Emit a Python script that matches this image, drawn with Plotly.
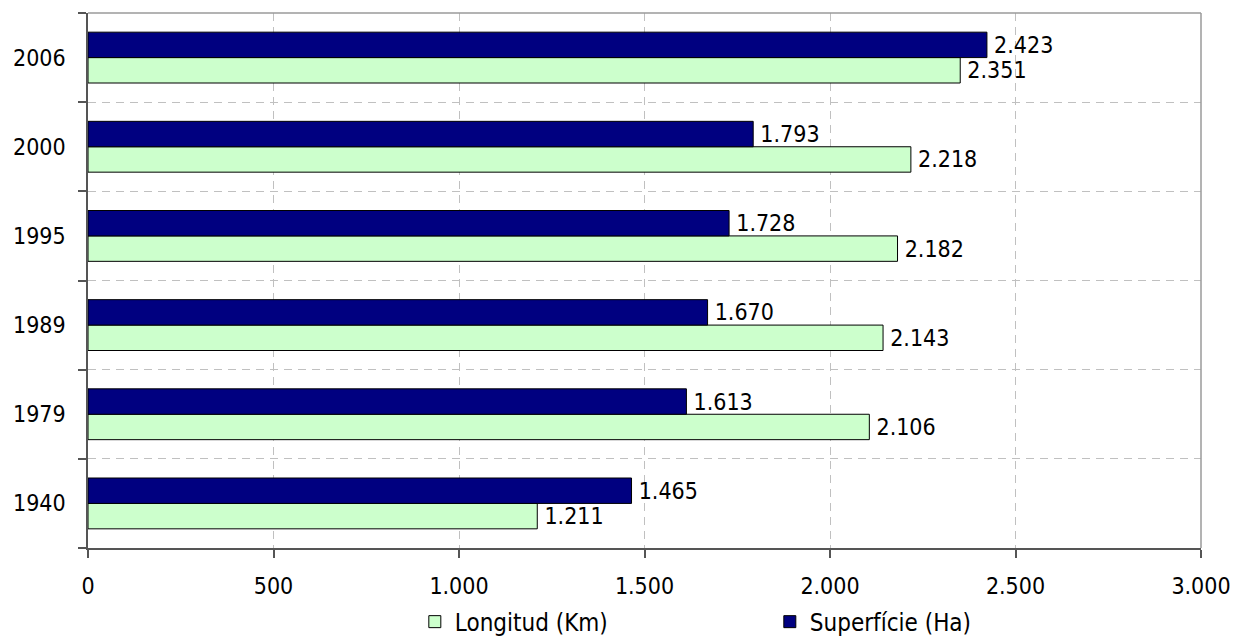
import plotly.graph_objects as go

# Years shown on the category axis (bottom to top)
years = ["1940", "1979", "1989", "1995", "2000", "2006"]
# Length of the network in km
longitud_km = [1211, 2106, 2143, 2182, 2218, 2351]
# Surface area in hectares
superficie_ha = [1465, 1613, 1670, 1728, 1793, 2423]

x_ticks = [0, 500, 1000, 1500, 2000, 2500, 3000]

FONT = "DejaVu Sans Condensed, DejaVu Sans, sans-serif"
FS = 23
# thin space keeps the value labels a little away from the bar ends
LABEL = "\u2009%{x:,d}"

fig = go.Figure()
fig.add_trace(go.Bar(
    name="Longitud (Km)", y=years, x=longitud_km, orientation="h",
    marker=dict(color="#CCFFCC", line=dict(color="#000000", width=1)),
    texttemplate=LABEL, textposition="outside", constraintext="none",
    textfont=dict(family=FONT, size=FS, color="#000000"), cliponaxis=False,
))
fig.add_trace(go.Bar(
    name="Superfície (Ha)", y=years, x=superficie_ha, orientation="h",
    marker=dict(color="#000080", line=dict(color="#000000", width=1)),
    texttemplate=LABEL, textposition="outside", constraintext="none",
    textfont=dict(family=FONT, size=FS, color="#000000"), cliponaxis=False,
))

fig.update_layout(
    width=1236, height=638,
    margin=dict(l=88, r=35, t=13, b=90, autoexpand=False),
    paper_bgcolor="white", plot_bgcolor="white",
    barmode="group", bargap=0.43, bargroupgap=0,
    separators=",.",
    font=dict(family=FONT, size=FS, color="#000000"),
    showlegend=True,
    legend=dict(
        orientation="h", x=0.6126, xanchor="center",
        yref="container", y=0.025, yanchor="middle",
        font=dict(family=FONT, size=24, color="#000000"),
        entrywidth=310, itemwidth=30, traceorder="normal",
    ),
    xaxis=dict(
        range=[0, 3000], tickvals=x_ticks, tickformat=",d",
        showgrid=True, gridcolor="#c0c0c0", griddash="8px,6px", gridwidth=1,
        showline=True, linecolor="#555555", linewidth=1.5,
        ticks="outside", ticklen=8, tickcolor="#555555", tickwidth=1.5,
        ticklabelstandoff=9, zeroline=False, fixedrange=True,
        automargin=False,
    ),
    yaxis=dict(
        type="category", categoryorder="array", categoryarray=years,
        tickson="boundaries",
        showgrid=True, gridcolor="#c0c0c0", griddash="8px,6px", gridwidth=1,
        showline=True, linecolor="#555555", linewidth=1.5,
        ticks="outside", ticklen=8, tickcolor="#555555", tickwidth=1.5,
        ticklabelstandoff=16, fixedrange=True, automargin=False,
    ),
    shapes=[
        dict(type="line", xref="paper", yref="paper", x0=0, x1=1, y0=1, y1=1,
             line=dict(color="#9a9a9a", width=1.5)),
        dict(type="line", xref="paper", yref="paper", x0=1, x1=1, y0=0, y1=1,
             line=dict(color="#9a9a9a", width=1.5)),
    ],
)

fig.write_html("out.html")
